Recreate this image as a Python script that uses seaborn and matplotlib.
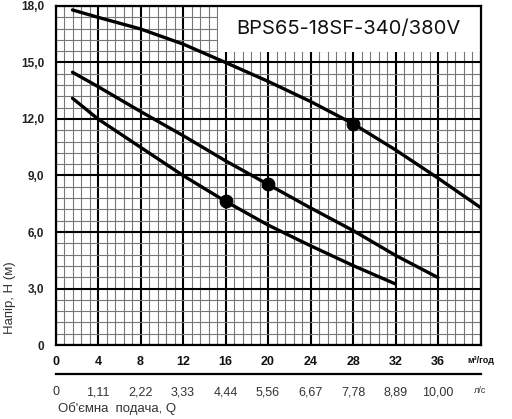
import numpy as np
import pandas as pd
import matplotlib
matplotlib.use("Agg")
import matplotlib.pyplot as plt
import seaborn as sns
from matplotlib.patches import Rectangle

# ---- data ----
q_upper = [1.6, 4, 8, 12, 16, 20, 24, 28, 32, 36, 40]
h_upper = [17.79, 17.4, 16.78, 15.98, 15.0, 14.0, 12.93, 11.75, 10.36, 8.86, 7.3]
q_middle = [1.6, 4, 8, 12, 16, 20, 24, 28, 32, 36]
h_middle = [14.48, 13.72, 12.4, 11.12, 9.78, 8.53, 7.28, 6.08, 4.76, 3.58]
q_lower = [1.6, 4, 8, 12, 16, 20, 24, 28, 32]
h_lower = [13.1, 12.0, 10.5, 9.0, 7.63, 6.37, 5.27, 4.22, 3.24]
q_points = [28, 20, 16]
h_points = [11.75, 8.53, 7.63]

x_ticks = [0, 4, 8, 12, 16, 20, 24, 28, 32, 36, 40]
x_labels = ["0", "4", "8", "12", "16", "20", "24", "28", "32", "36", "м³/год"]
ls_labels = ["0", "1,11", "2,22", "3,33", "4,44", "5,56", "6,67", "7,78", "8,89", "10,00", "л/с"]
y_ticks = [0, 3, 6, 9, 12, 15, 18]
y_labels = ["0", "3,0", "6,0", "9,0", "12,0", "15,0", "18,0"]
title = "BPS65-18SF-340/380V"

df = pd.concat([
    pd.DataFrame({"q": q_upper, "h": h_upper, "curve": "upper"}),
    pd.DataFrame({"q": q_middle, "h": h_middle, "curve": "middle"}),
    pd.DataFrame({"q": q_lower, "h": h_lower, "curve": "lower"}),
])
pts = pd.DataFrame({"q": q_points, "h": h_points})

sns.set_style("white")
plt.rcParams['font.family'] = ['Liberation Sans', 'DejaVu Sans']

fig = plt.figure(figsize=(5.12, 4.19), dpi=100)
ax = fig.add_axes([0.1084, 0.1766, 0.8301, 0.8091])

# grid
ax.set_xlim(0, 40)
ax.set_ylim(0, 18)
ax.set_xticks(x_ticks)
ax.set_yticks(y_ticks)
ax.set_xticks(np.arange(0, 40.01, 0.8), minor=True)
ax.set_yticks(np.arange(0, 18.01, 0.6), minor=True)
ax.set_axisbelow(True)
ax.grid(which='minor', color='#777777', lw=0.8)
ax.grid(which='major', color='black', lw=1.5)

# title box
ax.add_patch(Rectangle((15.3, 15.55), 24.7, 2.45, facecolor='white',
                       edgecolor='none', zorder=1))
ax.text(27.6, 16.78, title, ha='center', va='center', fontsize=14.5,
        family=['Inter', 'DejaVu Sans'], color='#111111', zorder=3)

sns.lineplot(data=df, x='q', y='h', units='curve', estimator=None, sort=False,
             color='black', lw=2.4, ax=ax, zorder=4)
sns.scatterplot(data=pts, x='q', y='h', color='black', s=85, edgecolor='black',
                ax=ax, zorder=5)

for s in ax.spines.values():
    s.set_color('black')
    s.set_linewidth(1.6)
    s.set_visible(True)

ax.set_xticklabels(x_labels)
ax.set_yticklabels(y_labels)
ax.tick_params(which='major', direction='out', length=5, width=1.5, color='black')
ax.tick_params(which='minor', length=0)
ax.tick_params(axis='x', pad=3)
ax.tick_params(axis='y', pad=3)
for lab in ax.get_xticklabels():
    lab.set_fontweight('bold')
    lab.set_fontsize(9)
    lab.set_color('#111111')
for lab in ax.get_yticklabels():
    lab.set_fontweight('bold')
    lab.set_fontsize(8.5)
    lab.set_color('#222222')
ax.get_xticklabels()[-1].set_fontsize(6.5)
ax.set_xlabel("")
ax.set_ylabel("")

# secondary axis (l/s)
ax2 = fig.add_axes([0.1084, 0.1074, 0.8301, 0.001])
ax2.set_xlim(0, 40)
ax2.set_ylim(0, 1)
ax2.patch.set_visible(False)
for k in ['top', 'left', 'right']:
    ax2.spines[k].set_visible(False)
ax2.spines['bottom'].set_color('black')
ax2.spines['bottom'].set_linewidth(1.6)
ax2.set_yticks([])
ax2.set_xticks(x_ticks)
ax2.set_xticklabels(ls_labels)
ax2.tick_params(axis='x', direction='out', length=6, width=1.5, color='black',
                labelsize=9, labelcolor='#333333', pad=3)
ax2.get_xticklabels()[-1].set_fontsize(6.5)

fig.text(0.113, 0.026, "Об'ємна  подача, Q", fontsize=9.5, color='#333333',
         ha='left', va='center')
fig.text(0.02, 0.29, "Напір, Н (м)", fontsize=9.5, color='#333333',
         rotation=90, ha='center', va='center')

fig.savefig("out.png", dpi=100)
